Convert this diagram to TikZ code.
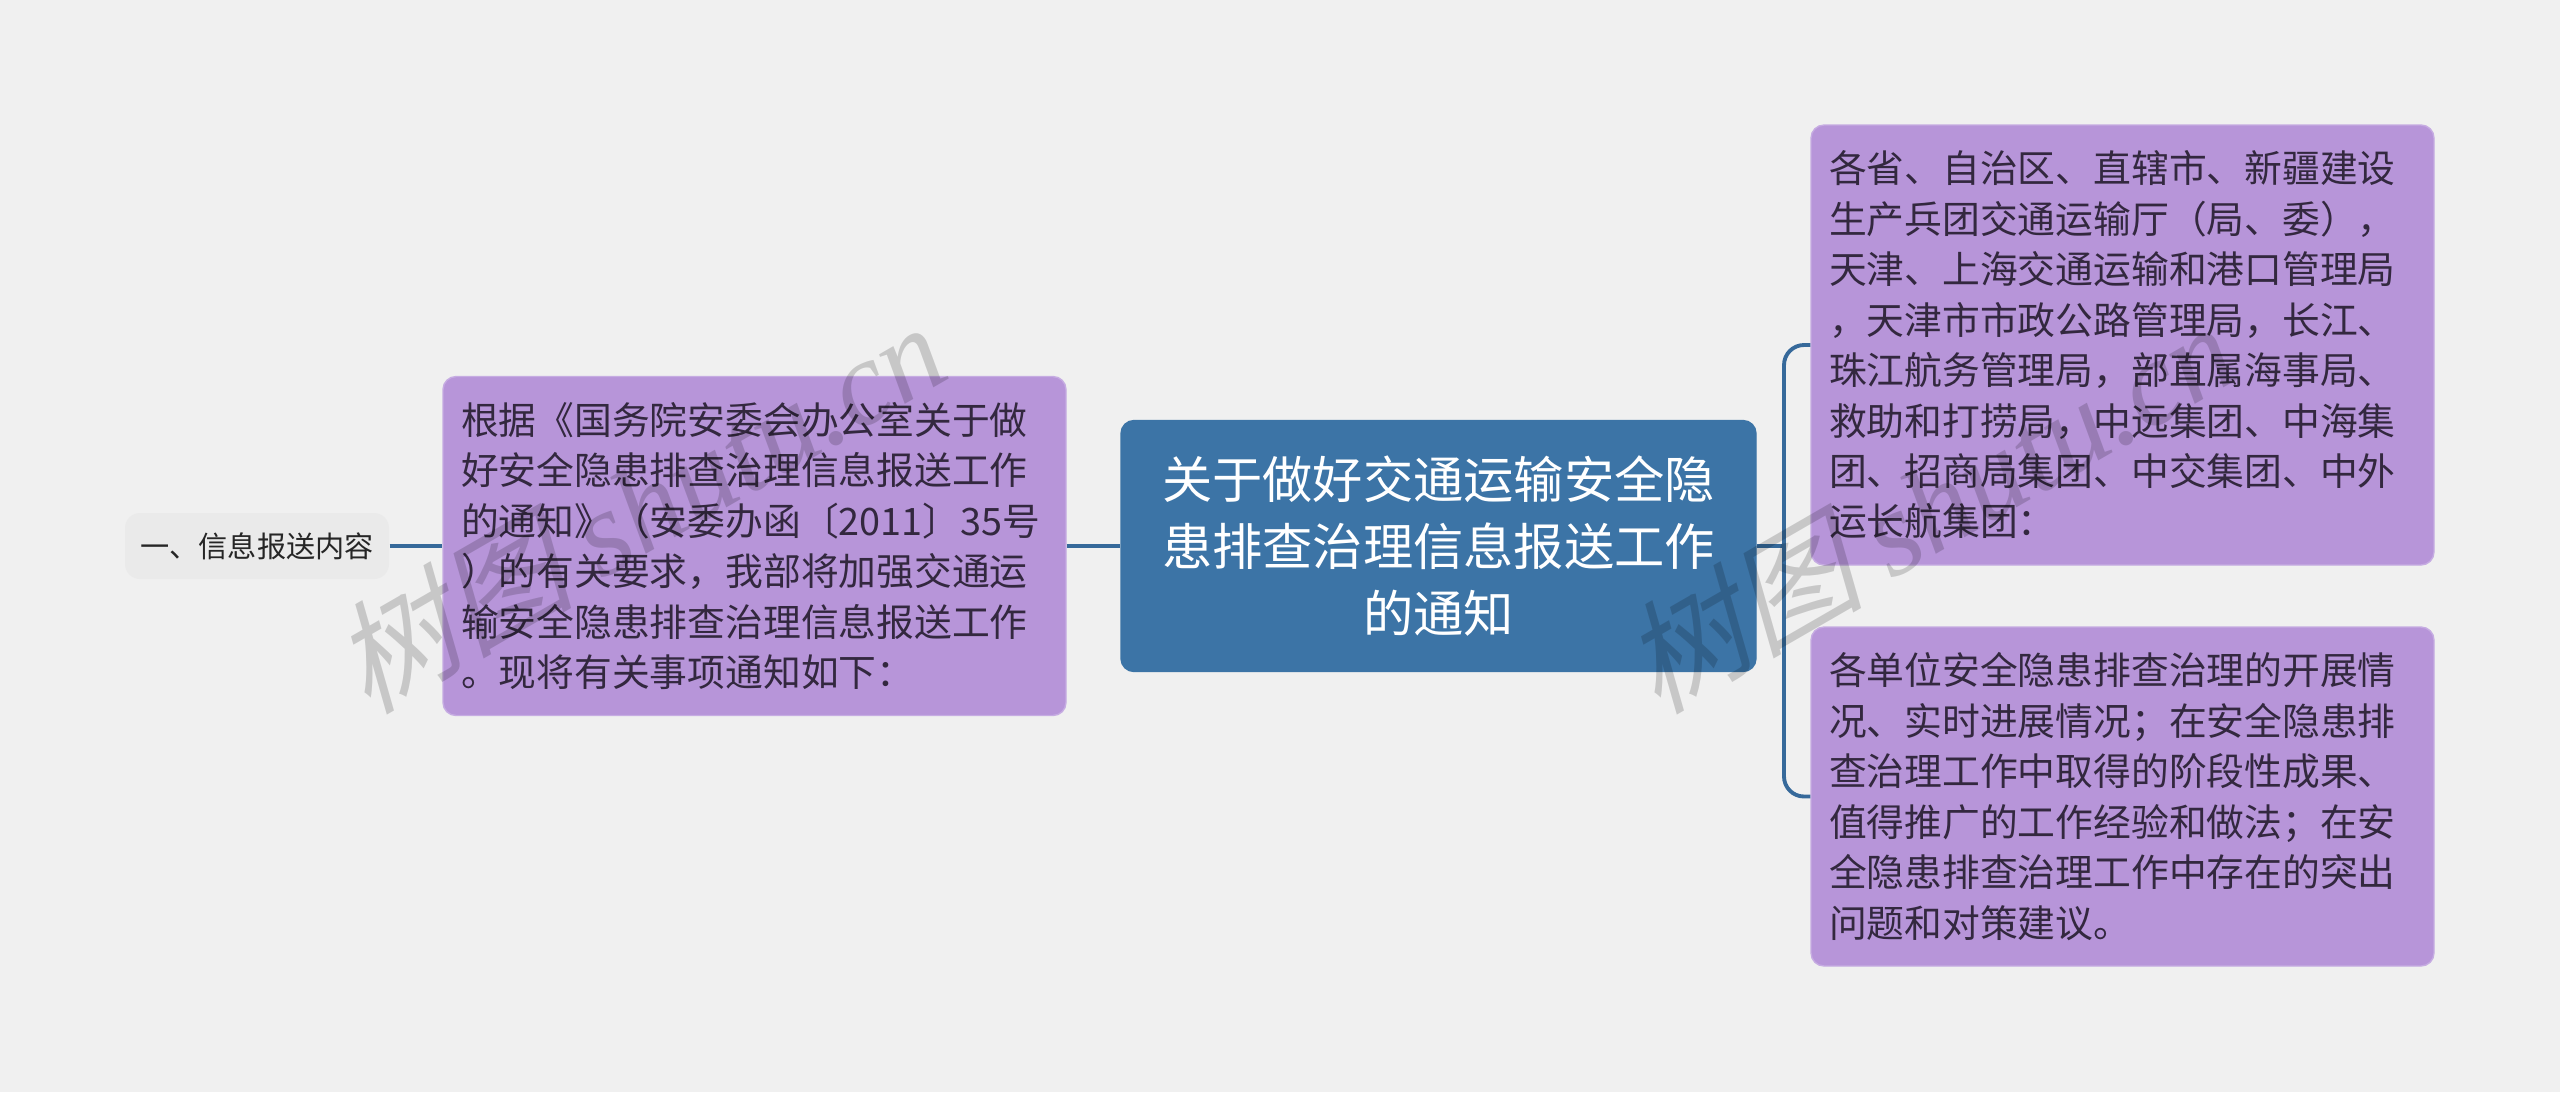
\documentclass[tikz,border=0pt]{standalone}
\usepackage{fontspec}
\setmainfont{Noto Sans CJK SC}
\newfontfamily\markfont[FakeSlant=0.25]{Noto Sans CJK SC}
\newfontfamily\marklatin{Liberation Serif}[Ligatures=TeX]
\definecolor{pagegray}{HTML}{F0F0F0}
\definecolor{rootblue}{HTML}{3C74A6}
\definecolor{linkblue}{HTML}{36699A}
\definecolor{leafpurple}{HTML}{B795D9}
\definecolor{leafedge}{HTML}{C6ACE2}
\definecolor{inkdark}{HTML}{33283F}
\definecolor{tagrey}{HTML}{EAEAEA}
\tikzset{
  rootbox/.style={rectangle,rounded corners=1.3mm,fill=rootblue,draw=rootblue,text=white,align=center,font=\fontsize{14.3}{19}\selectfont,minimum width=63.5mm,minimum height=25.1mm,inner sep=0},
  leafbox/.style={rectangle,rounded corners=1.3mm,fill=leafpurple,draw=leafedge,text=inkdark,align=left,font=\fontsize{10.75}{14.35}\selectfont,text width=58.7mm,inner xsep=1.8mm,inner ysep=0},
  tagbox/.style={rectangle,rounded corners=1.5mm,fill=tagrey,text=black!85,font=\fontsize{8.3}{11}\selectfont,minimum width=26.4mm,minimum height=6.6mm,inner sep=0},
  link/.style={draw=linkblue,line width=1.1pt},
  stamp/.style={text=black,text opacity=0.17,rotate=30,font=\fontsize{34.5}{40}\selectfont,inner sep=0}
}
\begin{document}
\begin{tikzpicture}[x=0.1mm,y=-0.1mm]
\useasboundingbox[fill=pagegray] (0,0) rectangle (2560,1092);
\coordinate (fork) at (1784,546);
\node[tagbox] (tag) at (257,546) {一、信息报送内容};
\node[leafbox,minimum height=33.9mm] (intro) at (754.5,546) {根据《国务院安委会办公室关于做\\好安全隐患排查治理信息报送工作\\的通知》（安委办函〔2011〕35号\\）的有关要求，我部将加强交通运\\输安全隐患排查治理信息报送工作\\。现将有关事项通知如下：};
\node[rootbox] (root) at (1438.5,546) {关于做好交通运输安全隐\\患排查治理信息报送工作\\的通知};
\node[leafbox,minimum height=44mm] (units) at (2122.5,345) {各省、自治区、直辖市、新疆建设\\生产兵团交通运输厅（局、委），\\天津、上海交通运输和港口管理局\\，天津市市政公路管理局，长江、\\珠江航务管理局，部直属海事局、\\救助和打捞局，中远集团、中海集\\团、招商局集团、中交集团、中外\\运长航集团：};
\node[leafbox,minimum height=33.9mm] (items) at (2122.5,796.5) {各单位安全隐患排查治理的开展情\\况、实时进展情况；在安全隐患排\\查治理工作中取得的阶段性成果、\\值得推广的工作经验和做法；在安\\全隐患排查治理工作中存在的突出\\问题和对策建议。};
\draw[link] (tag)--(intro) (intro)--(root) (root)--(fork);
\draw[link,rounded corners=2mm] (units.west) -| (fork) |- (items.west);
\node[stamp] (stampa) at (638,506) {\markfont 树图 \marklatin\itshape shutu.cn};
\node[stamp] (stampb) at (1928,506) {\markfont 树图 \marklatin\itshape shutu.cn};
\end{tikzpicture}
\end{document}
